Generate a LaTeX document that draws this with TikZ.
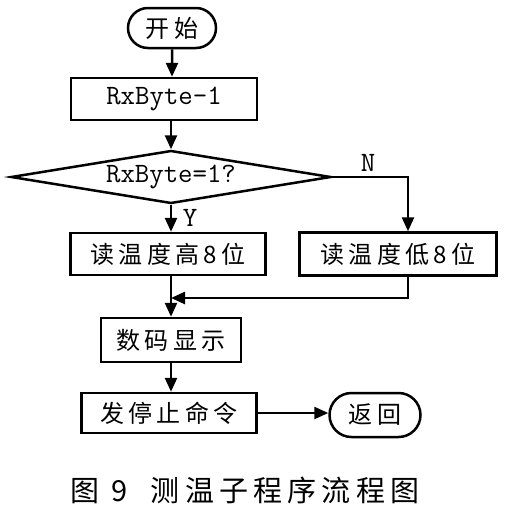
\documentclass[tikz,border=0pt]{standalone}
\usepackage{fontspec}
\newfontfamily\cjk[LetterSpace=18]{Noto Sans CJK SC}
\usetikzlibrary{arrows.meta,shapes.geometric,shapes.misc}

\begin{document}
\begin{tikzpicture}[x=1pt,y=-1pt,line width=2.5pt,
  box/.style={draw,inner sep=0pt,font=\cjk\fontsize{24}{26}\selectfont},
  term/.style={draw,rounded rectangle,inner sep=0pt,font=\cjk\fontsize{24}{26}\selectfont},
  cond/.style={draw,diamond,aspect=6,inner sep=0pt,font=\ttfamily\fontsize{28}{30}\selectfont},
  lbl/.style={font=\ttfamily\fontsize{28}{30}\selectfont},
  arr/.style={-{Triangle[length=14pt,width=12pt]}}]
  \useasboundingbox (0,0) rectangle (518,517);
  \node[term,minimum width=88pt,minimum height=40pt] (start) at (172,28) {开始};
  \node[box,minimum width=186pt,minimum height=42pt,font=\ttfamily\fontsize{28}{30}\selectfont] (dec) at (164,99) {RxByte-1};
  \node[cond,minimum width=320pt,minimum height=53pt] (chk) at (171,177) {RxByte=1?};
  \node[box,minimum width=195pt,minimum height=42pt] (hi) at (168,254) {读温度高8位};
  \node[box,minimum width=197pt,minimum height=43pt] (lo) at (398,254) {读温度低8位};
  \node[box,minimum width=140pt,minimum height=44pt] (disp) at (171,340) {数码显示};
  \node[box,minimum width=175pt,minimum height=40pt] (stop) at (169,413) {发停止命令};
  \node[term,minimum width=91pt,minimum height=44pt] (ret) at (375,415) {返回};
  \node[lbl] (nlab) at (368,163) {N};
  \node[lbl] (ylab) at (190,218) {Y};
  \node[font=\cjk\fontsize{29}{32}\selectfont] (cap) at (245,490) {图 9\ \ 测温子程序流程图};
  \coordinate (join) at (171,298);
  % main column
  \draw[arr] (start) -- (start |- dec.north);
  \draw[arr] (dec.south -| chk) -- (chk.north);
  \draw[arr] (chk.south) -- (chk.south |- hi.north);
  \draw[arr] (hi.south -| disp) -- (disp.north);
  \draw[arr] (disp) -- (disp |- stop.north);
  \draw[arr] (stop.east) -- (stop.east -| ret.west);
  % N branch
  \draw[arr] (chk.east) -| ([xshift=10pt]lo.north);
  \draw[arr] ([xshift=10pt]lo.south) |- (join);
\end{tikzpicture}
\end{document}
